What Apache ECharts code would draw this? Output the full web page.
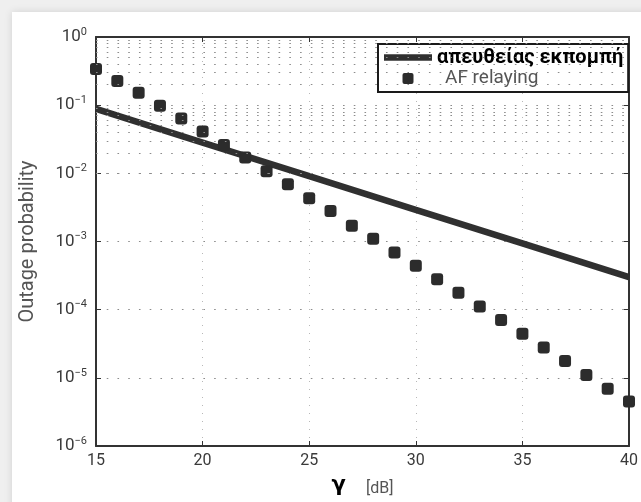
<!DOCTYPE html>
<html>
<head>
<meta charset="utf-8">
<script src="https://cdn.jsdelivr.net/npm/echarts@6/dist/echarts.min.js"></script>
<style>
html,body{margin:0;padding:0;background:#efefef;}
#c{width:641px;height:502px;}
</style>
</head>
<body>
<div id="c"></div>
<script>
// Data
const xTicks = [15, 20, 25, 30, 35, 40];
const directX = [15, 20, 25, 30, 35, 40];
const directY = [0.088, 0.0283, 0.0091, 0.00292, 0.00094, 0.00030];
const afX = [15,16,17,18,19,20,21,22,23,24,25,26,27,28,29,30,31,32,33,34,35,36,37,38,39,40];
const afY = [0.34,0.226,0.152,0.098,0.064,0.041,0.026,0.017,0.0107,0.0069,0.0043,0.0028,0.0017,0.0011,0.00069,0.00044,0.00028,0.000177,0.000111,0.0000705,0.0000443,0.0000278,0.0000176,0.000011,0.0000069,0.0000045];
const seriesNames = ['απευθείας εκπομπή', 'AF relaying'];

const minorY = [];
for (let e = -6; e < 0; e++) {
  for (let m = 2; m <= 9; m++) minorY.push({ yAxis: m * Math.pow(10, e) });
}

const chart = echarts.init(document.getElementById('c'), null, { renderer: 'canvas' });
const FONT = 'Roboto';
// plot width 537 px over 25 dB, columns every 0.5 dB => 10.74 px
const colStep = 537 / 50;
const hLine = { type: [1.6, colStep - 1.6], color: '#8c8c8c', width: 1 };
const vMajor = { type: [1, 7], color: '#b8b8b8', width: 1 };

function yLabel(v) {
  const e = Math.round(Math.log10(v));
  const s = e < 0 ? '\u2212' + (-e) : String(e);
  return '{b|10}{s|' + s + '}';
}
const yRich = {
  b: { fontSize: 17, fontFamily: FONT, color: '#3a3a3a' },
  s: { fontSize: 11, fontFamily: FONT, color: '#3a3a3a', padding: [0, 0, 10, 0] }
};

chart.setOption({
  animation: false,
  backgroundColor: 'transparent',
  graphic: [{
    type: 'rect', z: -100, silent: true,
    shape: { x: 12, y: 12, width: 640, height: 500 },
    style: { fill: '#ffffff', shadowBlur: 8, shadowColor: 'rgba(0,0,0,0.12)' }
  }],
  grid: { left: 96, top: 37, right: 8, bottom: 49, containLabel: false },
  legend: {
    left: 378, top: 44, orient: 'vertical',
    backgroundColor: '#ffffff', borderColor: '#1a1a1a', borderWidth: 2, borderRadius: 0,
    padding: [3, 5, 3, 6], itemGap: 0, itemWidth: 48, itemHeight: 11,
    textStyle: { fontFamily: FONT, fontSize: 20, lineHeight: 21 },
    data: [
      { name: seriesNames[0], icon: 'path://M0,0 H48 V6.5 H0 Z', itemStyle: { opacity: 1 }, textStyle: { fontWeight: 'bold', color: '#000' } },
      { name: seriesNames[1], icon: 'path://M2,0 H9 Q11,0 11,2 V9 Q11,11 9,11 H2 Q0,11 0,9 V2 Q0,0 2,0 Z', itemStyle: { opacity: 1 }, textStyle: { color: '#555', fontSize: 19, padding: [0, 0, 0, 8] } }
    ]
  },
  xAxis: [{
    type: 'value', position: 'bottom', min: 15, max: 40, interval: 5,
    axisLine: { show: true, onZero: false, lineStyle: { color: '#333', width: 2 } },
    axisTick: { show: true, inside: true, length: 5, lineStyle: { color: '#333' } },
    axisLabel: { fontFamily: FONT, fontSize: 16, color: '#3a3a3a', margin: 7 },
    splitLine: { show: true, lineStyle: vMajor },
    minorTick: { show: false, splitNumber: 10 },
    minorSplitLine: { show: false },
    name: '{g|γ}      {u|[dB]}', nameLocation: 'middle', nameGap: 28,
    nameTextStyle: {
      rich: {
        g: { fontSize: 21, fontWeight: 'bold', color: '#000', fontFamily: 'DejaVu Sans' },
        u: { fontSize: 16, color: '#555', fontFamily: FONT, padding: [7, 0, 0, 0] }
      }
    }
  }, {
    type: 'value', position: 'top', min: 15, max: 40, interval: 5,
    axisLine: { show: true, onZero: false, lineStyle: { color: '#333', width: 2 } },
    axisTick: { show: true, inside: true, length: 5, lineStyle: { color: '#333' } },
    axisLabel: { show: false }, splitLine: { show: false }
  }],
  yAxis: [{
    type: 'log', logBase: 10, min: 1e-6, max: 1, splitNumber: 6, position: 'left',
    axisLine: { show: true, onZero: false, lineStyle: { color: '#333', width: 2 } },
    axisTick: { show: true, inside: true, length: 5, lineStyle: { color: '#333' } },
    axisLabel: { formatter: yLabel, rich: yRich, margin: 9 },
    splitLine: { show: true, lineStyle: hLine },
    name: 'Outage probability', nameLocation: 'middle', nameGap: 58,
    nameTextStyle: { fontFamily: FONT, fontSize: 20, color: '#555' }
  }, {
    type: 'log', logBase: 10, min: 1e-6, max: 1, splitNumber: 6, position: 'right',
    axisLine: { show: true, onZero: false, lineStyle: { color: '#333', width: 2 } },
    axisTick: { show: true, inside: true, length: 5, lineStyle: { color: '#333' } },
    axisLabel: { show: false }, splitLine: { show: false }
  }],
  series: [{
    name: seriesNames[0], type: 'line', xAxisIndex: 0, yAxisIndex: 0,
    data: directX.map((x, i) => [x, directY[i]]),
    symbol: 'none', showSymbol: false,
    lineStyle: { color: '#303030', width: 6.5 }, itemStyle: { color: '#303030' },
    z: 3
  }, {
    name: seriesNames[1], type: 'scatter', xAxisIndex: 0, yAxisIndex: 0,
    data: afX.map((x, i) => [x, afY[i]]),
    symbol: 'roundRect', symbolSize: 12, clip: false,
    itemStyle: { color: '#2c2c2c', opacity: 1 }, z: 4,
    markLine: {
      silent: true, symbol: 'none', label: { show: false },
      lineStyle: hLine, animation: false,
      data: minorY
    }
  }]
});
</script>
</body>
</html>
